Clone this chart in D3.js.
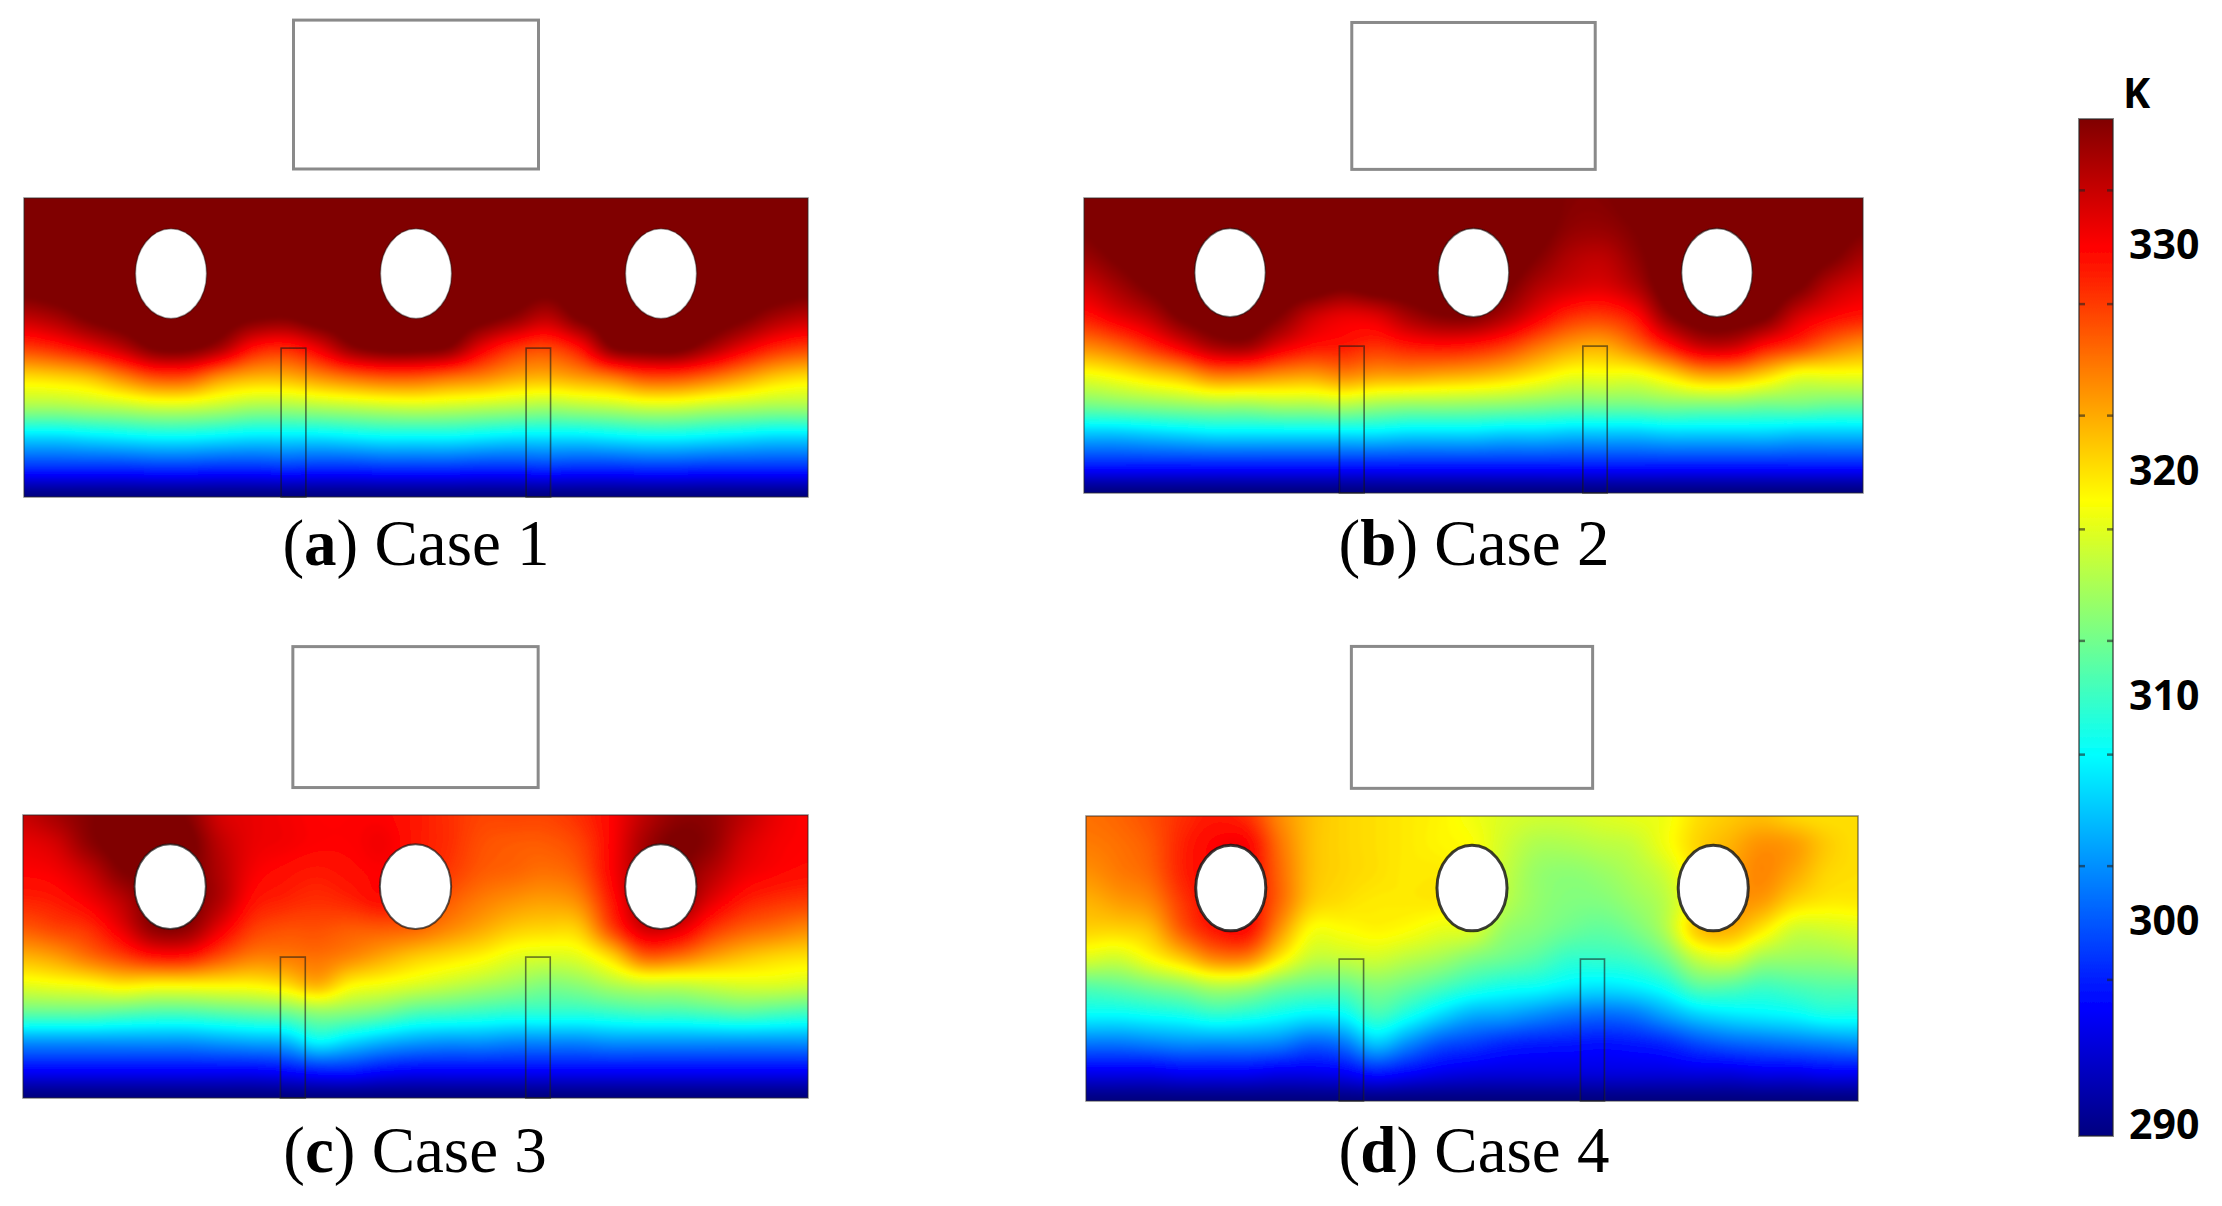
<!DOCTYPE html>
<html>
<head>
<meta charset="UTF-8">
<title>Temperature fields, Case 1 to 4</title>
<style>
    body { margin: 0; background: #fff; }
    svg { display: block; }
    .caption { font-family: "Liberation Serif", serif; font-size: 65px; fill: #000; text-anchor: middle; }
    .bar-label { font-family: "Open Sans", sans-serif; font-weight: 700; font-size: 41px; fill: #000; }
</style>
<script src="https://d3js.org/d3.v7.min.js"></script>
</head>
<body>
<svg id="chart" width="2222" height="1206"></svg>
<script>
    // temperature in K, rows top to bottom, 25 columns left to right
    var case1 = [
        [337,337,337,337,337,337,337,337,337,337,337,337,337,337,337,337,337,337,337,337,337,337,337,337,337],
        [337,337,337,337,337,337,337,337,337,337,337,337,337,337,337,337,337,337,337,337,337,337,337,337,337],
        [337,337,337,337,337,337,337,337,337,337,337,337,337,337,337,337,337,337,337,337,337,337,337,337,337],
        [336.5,337,337,337,337,337,337,337,337,337,337,337,337,337,337,337,336.5,337,337,337,337,337,337,337,336.5],
        [332.8,334,336,337,337,337,337,336,335.6,337,337,337,337,337,336.5,335,333,336,337,337,337,337,336,334,332.8],
        [327.3,328.5,330.5,333,336,336.2,334,329.5,328.5,331,335,336.5,336.5,335.5,331,328,327,329.5,335.5,336.5,336.5,334,331,328.5,327.3],
        [320,320.5,321.5,324,326.4,326.4,323.5,322,322,323.5,325,326,326,325,324,322.5,322,323,324.5,326.5,326.5,325,323,321,320],
        [314.5,314.5,315,315.5,316.3,316.3,315.5,314.5,314.5,315,315.5,316,316.3,316,315.5,315,314.5,315,315.5,316.3,316.3,315.5,315,314.5,314.5],
        [305.5,305.5,306,306.5,307,307,306.5,306,306,306,306.5,307,307,307,306.5,306,306,306,306.5,307,307,306.5,306,305.5,305.5],
        [298,298,298,298,298.3,298.3,298,298,298.3,298,298,298.3,298.3,298.3,298,298,298.3,298,298,298.3,298.3,298,298,298,298],
        [290,290,290,290,290,290,290,290,290,290,290,290,290,290,290,290,290,290,290,290,290,290,290,290,290]
    ];
    var case2 = [
        [337,337,337,337,337,337,337,337,337,337,337,337,337,337,336.5,335.5,335.5,336.5,337,337,337,337,337,337,337],
        [336,337,337,337,337,337,337,337,337,337,337,337,337,337,336.5,335,334.8,335.8,337,337,337,337,337,337,336],
        [334.5,336,337,337,337,337,337,337,337,337,337,337,337,337,335.5,333.5,333,335,337,337,337,337,337,336,334],
        [332,334,336,337,337,337,337,337,336,337,337,337,337,336,333.5,332,331.5,333.5,337,337,337,337,336,333,331.5],
        [329,331,333,336,337,337,335.6,332.5,331,331.5,334,335.5,335.5,333.5,330.5,328,327.5,329.5,335,337,337,336,332,330,329],
        [324,325.5,328,331,334,334.5,331.5,329.5,329,328,329,329.5,329,327.5,325,323,322.5,325,329,332.5,332.5,329.5,327.5,325,323.5],
        [318,319,320.5,322,324.5,324.5,323.5,323,324,323,323,322.5,322,321,319.5,318,318,318,320,322.5,322.5,320.5,318,318,318],
        [312.5,313,313.5,314,314.5,314.5,315,315,315.5,314.5,314,314,313.8,313.5,313,312.5,312.5,312.5,313,313,313,312.5,312.5,312,312],
        [304.5,304.5,305,305.5,306,306,306,306,306,306,305.5,305.5,305.5,305,305,304.5,304.5,304.5,305,305,305,305,304.5,304.5,304.5],
        [297.5,297.5,297.5,297.5,297.5,297.5,297.5,297.5,297.5,297.5,297.5,297.5,297.5,297.5,297.5,297.5,297.5,297.5,297.5,297.5,297.5,297.5,297.5,297.5,297.5],
        [290,290,290,290,290,290,290,290,290,290,290,290,290,290,290,290,290,290,290,290,290,290,290,290,290]
    ];
    var case3 = [
        [332.5,334,335.5,336,336,335.5,332,331,330.5,330,330,330,329,328,327,327,327,328,330,333,335,335,333,331,330],
        [331,332,335,336.5,336.5,336.5,333,331,330.5,330,330,330.5,329,328,326.5,326,326,327,330,334,336,335,332,330.5,330],
        [330,330.5,332.5,335.5,336,336,333.5,330.5,329.5,329,329.5,330,329,327.5,326,325.5,325,326,330,334,335.5,333.5,331,330,329.5],
        [328.5,329,330.5,333,336,336,333.5,329.5,328.5,328,328.5,329.5,328,326,324.5,323.5,323,324,329,334,335,331.5,329,328,327.5],
        [326,327,328,331,335,335,331,327.5,326.5,326.5,326,326,325.5,324,322.5,321,320.5,321,327,332,331.5,328,326,325,324],
        [322,323,325,327,329,329,326.5,324.5,324.5,325,324,322.5,321,320,319,317.5,317,317.5,320.5,325.5,325,323,321.5,320.5,320],
        [317.5,318,318.5,319.5,319,319,319,319,320,322,319,318,317,316,315,314,313,313.5,315,316,316,316.5,317,317,316.5],
        [311.5,311.5,311.5,311,310.5,310.5,311,311.5,312,313.5,313,312,310.5,310,309.5,309,309,309,309.5,310,310,310.5,311,310.5,310],
        [302.5,302.5,302.5,302.5,302.5,302.5,303,303.5,304,307,305.5,304,303,302.5,302.5,302,302,302,302.5,302.5,302.5,302.5,302.5,302.5,302.5],
        [296,296,296,296,296,296,296,296,296.5,297.5,297.5,296.5,296,296,296,296,296,296,296,296,296,296,296,296,296],
        [290,290,290,290,290,290,290,290,290,290,290,290,290,290,290,290,290,290,290,290,290,290,290,290,290]
    ];
    var case4 = [
        [325,325.5,326.5,328,329,328,324,321.5,320.5,320,319.5,319,318,317,316.5,316.5,317,317.5,318,320,321,321.5,320.5,320,320],
        [324.5,325,326,328.5,330,330,325,321.5,320.5,320,319.5,319,318.5,316.5,315,315,315.5,316,318,320.5,322,323.5,323,321,320],
        [323.5,324.5,325.5,328.5,330,330,325.5,321.5,320.5,320,319.5,319.5,318.5,316,314,313.5,314,315,316.5,320,322.5,324,322.5,320.5,320],
        [322,323,324,327.5,330,330,325.5,321,320,319.5,319.5,319.5,318.5,315.5,313.8,313,313,314,315.5,319.5,323,323,320.5,319.5,319.5],
        [320.5,320.5,321.5,326,329,329.5,323.5,318.5,318.5,319,318.5,317.5,317,314,313,312,311.5,312.5,315,321,322,319.5,316.5,316.5,317],
        [317,316.5,318.5,321,324,324,319.5,316,316,316.5,315.5,314.5,313,312,311,309.5,309.5,310,312,316,317,314.5,314,314,314.5],
        [311,311.5,312.5,313.5,315,314.5,312.5,311.5,311.5,313,312,310.5,309,308,307.5,306.5,306,306.5,308,311,311,310,310.5,311,311],
        [307,307,307.5,308,309,308.5,307.5,306.5,307,310,308,305.5,303.5,303,302,301,300.5,301,303,305,306,306.5,307,308,308],
        [301,301,301.5,302,302,302,301.5,300,301,304.5,302,299.5,298.5,297.5,297,296.8,296.5,296.8,297.5,299,300,300.5,301,301.5,302],
        [295,295,295,295.5,295.5,295.5,295,295,295.5,297,296,295,294.5,294.3,294.3,294.3,294.3,294.3,294.3,294.5,294.5,295,295,295.5,295.5],
        [290,290,290,290,290,290,290,290,290,290,290,290,290,290,290,290,290,290,290,290,290,290,290,290,290]
    ];

    var caseFields = [case1, case2, case3, case4];
    var caseLetters = ["a", "b", "c", "d"];
    var caseNames = ["Case 1", "Case 2", "Case 3", "Case 4"];

    // colour scale
    var tempMin = 290, tempMax = 335.6;
    var jetFractions = [0, 1/8, 3/8, 5/8, 7/8, 1];
    var jetColors = ["#000080", "#0000ff", "#00ffff", "#ffff00", "#ff0000", "#800000"];
    var barLabels = [330, 320, 310, 300, 290];
    var barTicks = [297, 302.1, 307.1, 312.2, 317.2, 322.3, 327.3, 332.4];

    // geometry in field units (columns 0-24, rows 0-10)
    var holeCols = [4.5, 12, 19.5];
    var holeRow = 2.53, holeRx = 1.09, holeRy = 1.5;
    var finCols = [[7.87, 8.63], [15.37, 16.12]];
    var finTopRow = 5.02;
    var coverCols = [8.25, 15.75];
    var coverRows = [-5.95, -0.97];

    // page layout of each panel
    var panelX = [[24, 808], [1084, 1863], [23, 808], [1086, 1858]];
    var panelY = [[198, 497], [198, 493], [815, 1098], [816, 1101]];
    var captionX = [416, 1474, 415, 1474];
    var captionY = [565, 565, 1172, 1172];
    var holeEdge = [0.4, 0.55, 0.7, 0.85];
    var holeWidth = [1.6, 1.6, 2, 3];
    var finTopWidth = [2.5, 3.5, 3, 3.5];

    var temp = d3.scaleLinear()
        .domain(jetFractions.map(function(f) { return tempMin + f * (tempMax - tempMin); }))
        .range(jetColors)
        .clamp(true);

    var svg = d3.select("#chart");
    var defs = svg.append("defs");

    defs.append("filter").attr("id", "soft")
        .append("feGaussianBlur").attr("stdDeviation", 1.6);
    defs.append("filter").attr("id", "edge")
        .append("feGaussianBlur").attr("stdDeviation", 0.6);

    // catmull-rom smoothing between the values read from the picture, so contours are not faceted
    function cubic(a, b, c, d, t) {
        return b + 0.5 * t * (c - a + t * (2 * a - 5 * b + 4 * c - d + t * (3 * (b - c) + d - a)));
    }

    function fieldAt(field, col, row) {
        var nr = field.length, nc = field[0].length;
        var c0 = Math.min(Math.floor(col), nc - 2), r0 = Math.min(Math.floor(row), nr - 2);
        var tc = col - c0, tr = row - r0;
        var vals = [];
        for (var j = -1; j <= 2; j++) {
            var line = field[Math.max(0, Math.min(nr - 1, r0 + j))];
            vals.push(cubic(line[Math.max(0, c0 - 1)], line[c0], line[c0 + 1], line[Math.min(nc - 1, c0 + 2)], tc));
        }
        return Math.max(tempMin, cubic(vals[0], vals[1], vals[2], vals[3], tr));
    }

    var fine = 6;
    var thresholds = d3.range(tempMin, 336.01, 0.2);

    caseFields.forEach(function(field, p) {
        var x = d3.scaleLinear().domain([0, 24]).range(panelX[p]);
        var y = d3.scaleLinear().domain([0, 10]).range(panelY[p]);
        var g = svg.append("g").attr("class", "panel");

        // empty rectangle above the field
        g.append("rect")
            .attr("x", x(coverCols[0]))
            .attr("y", y(coverRows[0]))
            .attr("width", x(coverCols[1]) - x(coverCols[0]))
            .attr("height", y(coverRows[1]) - y(coverRows[0]))
            .attr("fill", "#fff")
            .attr("stroke", "#8a8a8a")
            .attr("stroke-width", 3)
            .attr("filter", "url(#edge)");

        // temperature field
        var nx = 24 * fine + 1, ny = 10 * fine + 1;
        var values = new Array(nx * ny);
        for (var j = 0; j < ny; j++) {
            for (var i = 0; i < nx; i++) {
                values[j * nx + i] = fieldAt(field, i / fine, j / fine);
            }
        }
        var contours = d3.contours().size([nx, ny]).thresholds(thresholds)(values);

        var gx = d3.scaleLinear().domain([0.5, nx - 0.5]).range(panelX[p]);
        var gy = d3.scaleLinear().domain([0.5, ny - 0.5]).range(panelY[p]);
        var path = d3.geoPath(d3.geoTransform({
            point: function(a, b) { this.stream.point(gx(a), gy(b)); }
        }));

        defs.append("clipPath").attr("id", "clip" + p)
            .append("rect")
            .attr("x", panelX[p][0])
            .attr("y", panelY[p][0])
            .attr("width", panelX[p][1] - panelX[p][0])
            .attr("height", panelY[p][1] - panelY[p][0]);

        g.append("g").attr("clip-path", "url(#clip" + p + ")")
            .append("g").attr("filter", "url(#soft)")
            .selectAll("path")
            .data(contours)
            .enter().append("path")
            .attr("d", path)
            .attr("fill", function(d) { return temp(d.value); });

        g.append("rect")
            .attr("x", panelX[p][0])
            .attr("y", panelY[p][0])
            .attr("width", panelX[p][1] - panelX[p][0])
            .attr("height", panelY[p][1] - panelY[p][0])
            .attr("fill", "none")
            .attr("stroke", "#222")
            .attr("stroke-opacity", 0.55)
            .attr("stroke-width", 1.5)
            .attr("filter", "url(#edge)");

        // fins
        g.selectAll(".fin")
            .data(finCols)
            .enter().append("rect")
            .attr("class", "fin")
            .attr("x", function(d) { return x(d[0]); })
            .attr("y", y(finTopRow))
            .attr("width", function(d) { return x(d[1]) - x(d[0]); })
            .attr("height", y(10) - y(finTopRow))
            .attr("fill", "none")
            .attr("stroke", "#1a1a1a")
            .attr("stroke-opacity", 0.6)
            .attr("stroke-width", 1.6)
            .attr("filter", "url(#edge)");

        g.selectAll(".fin-top")
            .data(finCols)
            .enter().append("line")
            .attr("class", "fin-top")
            .attr("x1", function(d) { return x(d[0]); })
            .attr("x2", function(d) { return x(d[1]); })
            .attr("y1", y(finTopRow))
            .attr("y2", y(finTopRow))
            .attr("stroke", "#1a1a1a")
            .attr("stroke-opacity", 0.6)
            .attr("stroke-width", finTopWidth[p])
            .attr("filter", "url(#edge)");

        // holes
        g.selectAll(".hole")
            .data(holeCols)
            .enter().append("ellipse")
            .attr("class", "hole")
            .attr("cx", function(d) { return x(d); })
            .attr("cy", y(holeRow))
            .attr("rx", x(holeRx) - x(0))
            .attr("ry", y(holeRy) - y(0))
            .attr("fill", "#fff")
            .attr("stroke", "#1a1a1a")
            .attr("stroke-opacity", holeEdge[p])
            .attr("stroke-width", holeWidth[p])
            .attr("filter", "url(#edge)");

        // caption
        var caption = g.append("text")
            .attr("class", "caption")
            .attr("x", captionX[p])
            .attr("y", captionY[p]);
        caption.append("tspan").text("(");
        caption.append("tspan").attr("font-weight", "bold").text(caseLetters[p]);
        caption.append("tspan").text(") " + caseNames[p]);
    });

    // colour bar
    var barLeft = 2079, barRight = 2113, barTop = 119, barBottom = 1136;
    var barY = d3.scaleLinear().domain([tempMin, tempMax]).range([barBottom, barTop]);

    var gradient = defs.append("linearGradient")
        .attr("id", "jet")
        .attr("x1", 0).attr("x2", 0).attr("y1", 1).attr("y2", 0);
    gradient.selectAll("stop")
        .data(jetFractions)
        .enter().append("stop")
        .attr("offset", function(d) { return d; })
        .attr("stop-color", function(d, i) { return jetColors[i]; });

    var bar = svg.append("g").attr("class", "colorbar");

    bar.append("rect")
        .attr("x", barLeft)
        .attr("y", barTop)
        .attr("width", barRight - barLeft)
        .attr("height", barBottom - barTop)
        .attr("fill", "url(#jet)")
        .attr("stroke", "#222")
        .attr("stroke-opacity", 0.55)
        .attr("stroke-width", 2)
        .attr("filter", "url(#edge)");

    // the lowest tick only shows on the right edge
    [0, 1].forEach(function(side) {
        bar.selectAll(".tick" + side)
            .data(barTicks.filter(function(d) { return side || d > 297; }))
            .enter().append("line")
            .attr("class", "tick" + side)
            .attr("x1", side ? barRight - 6 : barLeft)
            .attr("x2", side ? barRight : barLeft + 6)
            .attr("y1", function(d) { return barY(d); })
            .attr("y2", function(d) { return barY(d); })
            .attr("stroke", "#222")
            .attr("stroke-opacity", 0.6)
            .attr("stroke-width", 2.5);
    });

    // labels in the picture sit on their own spacing, not quite on the bar's scale
    var labelY = d3.scaleLinear().domain([330, 300]).range([245, 921]);

    bar.selectAll(".bar-label")
        .data(barLabels)
        .enter().append("text")
        .attr("class", "bar-label")
        .attr("x", 2129)
        .attr("y", function(d) { return d === tempMin ? barBottom - 11 : labelY(d); })
        .attr("dy", "0.35em")
        .text(function(d) { return d; });

    bar.append("text")
        .attr("class", "bar-label")
        .attr("x", 2123)
        .attr("y", 108)
        .text("K");
</script>
</body>
</html>
